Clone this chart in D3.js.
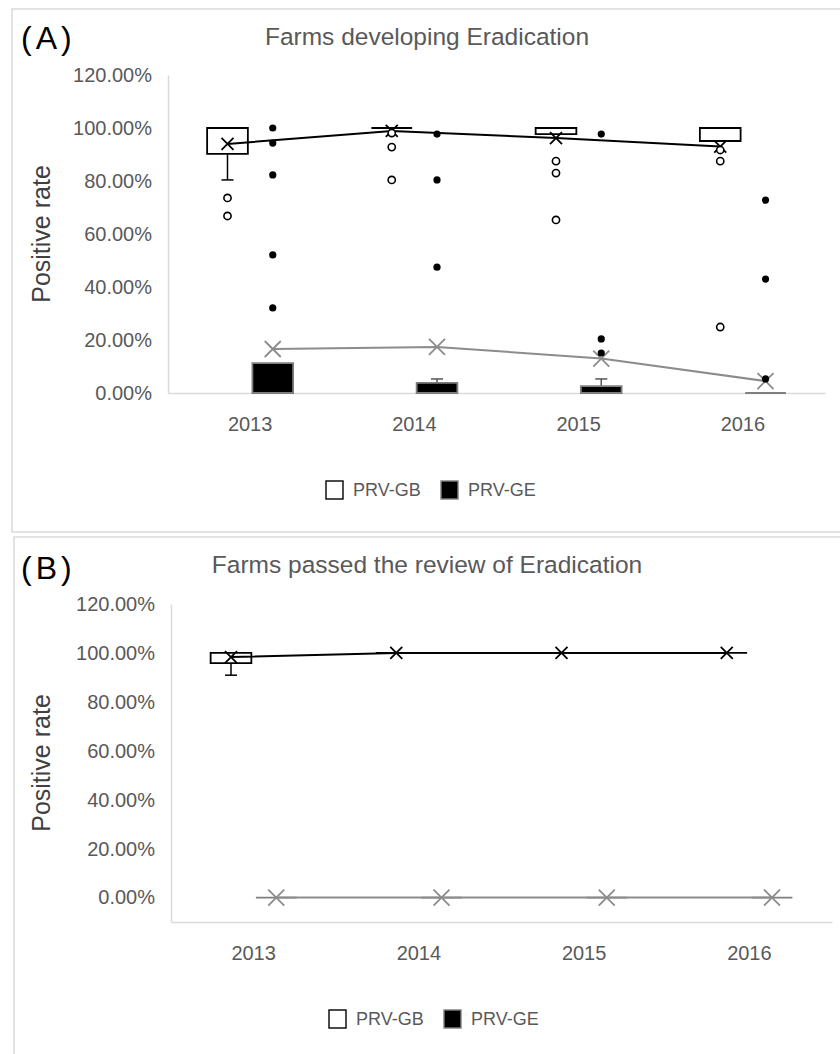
<!DOCTYPE html>
<html>
<head>
<meta charset="utf-8">
<script src="https://cdn.jsdelivr.net/npm/d3@7"></script>
<style>
body { margin: 0; background: #fff; }
svg { display: block; }
text { font-family: "Liberation Sans", Arial, sans-serif; }
</style>
</head>
<body>
<svg id="chart" width="840" height="1054"></svg>
<script>
const years = ["2013", "2014", "2015", "2016"]
const series = ["PRV-GB", "PRV-GE"]
const yTicks = [0, 0.2, 0.4, 0.6, 0.8, 1.0, 1.2]

// box rows are [q1, median, q3, whiskerLow, whiskerHigh]
// (A) farms developing eradication
const gbBoxA = [[0.902, 1.0, 1.0, 0.804, 1.0], [1, 1, 1, 1, 1], [0.977, 1, 1, 0.977, 1], [0.951, 1, 1, 0.951, 1]]
const gbMeanA = [0.940, 0.989, 0.962, 0.930]
const gbOutA = [[0.736, 0.668], [0.981, 0.928, 0.804], [0.875, 0.830, 0.653], [0.917, 0.875, 0.249]]
const geBoxA = [[0, 0, 0.113, 0, 0.113], [0, 0, 0.038, 0, 0.053], [0, 0, 0.026, 0, 0.053], [0, 0, 0, 0, 0]]
const geMeanA = [0.166, 0.174, 0.130, 0.045]
const geOutA = [[1.0, 0.943, 0.823, 0.521, 0.321], [0.977, 0.804, 0.475], [0.977, 0.204, 0.151], [0.728, 0.430, 0.053]]

// (B) farms passed the review
const gbBoxB = [[0.958, 1, 1, 0.909, 1], [1, 1, 1, 1, 1], [1, 1, 1, 1, 1], [1, 1, 1, 1, 1]]
const gbMeanB = [0.983, 1, 1, 1]
const gbOutB = [[], [], [], []]
const geBoxB = [[0, 0, 0, 0, 0], [0, 0, 0, 0, 0], [0, 0, 0, 0, 0], [0, 0, 0, 0, 0]]
const geMeanB = [0, 0, 0, 0]
const geOutB = [[], [], [], []]

const panels = [
	{
		label: "(A)", title: "Farms developing Eradication",
		frame: [12, 9, 840, 523], left: 168, right: 825, top: 75, bottom: 393, yDomain: [0, 1.2],
		titleY: 45, labelY: 49, legendY: 490, legendX: 325, axisTitleY: 234,
		gb: {box: gbBoxA, mean: gbMeanA, out: gbOutA}, ge: {box: geBoxA, mean: geMeanA, out: geOutA},
	},
	{
		label: "(B)", title: "Farms passed the review of Eradication",
		frame: [14, 537, 840, 530], left: 171, right: 832, top: 604, bottom: 922, yDomain: [-0.1, 1.2],
		titleY: 573, labelY: 579, legendY: 1019, legendX: 328, axisTitleY: 763,
		gb: {box: gbBoxB, mean: gbMeanB, out: gbOutB}, ge: {box: geBoxB, mean: geMeanB, out: geOutB},
	},
]

const svg = d3.select("#chart")

function drawPanel(p) {
	const g = svg.append("g")
	g.append("rect")
		.attr("x", p.frame[0]).attr("y", p.frame[1])
		.attr("width", p.frame[2]).attr("height", p.frame[3])
		.attr("fill", "none").attr("stroke", "#d9d9d9").attr("stroke-width", 1.5)

	const x = d3.scaleBand().domain(years).range([p.left, p.right])
	const sub = d3.scaleBand().domain(series).range([-43, 43]).paddingInner(0.1)
	const y = d3.scaleLinear().domain(p.yDomain).range([p.bottom, p.top])

	// axes
	const ya = g.append("g")
		.attr("transform", "translate(" + p.left + ",0)")
		.call(d3.axisLeft(y).tickValues(yTicks).tickSize(0).tickSizeOuter(0).tickPadding(16).tickFormat(d3.format(".2%")))
	const xa = g.append("g")
		.attr("transform", "translate(0," + p.bottom + ")")
		.call(d3.axisBottom(x).tickSize(0).tickSizeOuter(0).tickPadding(24))
	for (const a of [ya, xa]) {
		a.select(".domain").attr("stroke", "#d9d9d9").attr("stroke-width", 1.5)
		a.selectAll("text").attr("font-size", 20).attr("fill", "#595959").attr("font-family", "Liberation Sans, Arial, sans-serif")
	}

	const bw = sub.bandwidth()
	const groups = [
		{key: "PRV-GB", d: p.gb, stroke: "#000", fill: "#fff", line: "#000", mk: 6, mkColor: "#000", outFill: "#fff", outStroke: "#000", whisk: "#000"},
		{key: "PRV-GE", d: p.ge, stroke: "#7f7f7f", fill: "#000", line: "#8c8c8c", mk: 8, mkColor: "#8c8c8c", outFill: "#000", outStroke: "none", whisk: "#555"},
	]

	for (const s of groups) {
		const cx = i => x(years[i]) + x.bandwidth() / 2 + sub(s.key) + bw / 2
		const sg = g.append("g")

		// whiskers
		s.d.box.forEach((b, i) => {
			const c = cx(i)
			const segs = []
			if (b[3] < b[0]) segs.push([b[0], b[3]])
			if (b[4] > b[2]) segs.push([b[2], b[4]])
			segs.forEach(([from, to]) => {
				sg.append("line").attr("x1", c).attr("x2", c).attr("y1", y(from)).attr("y2", y(to))
					.attr("stroke", s.whisk).attr("stroke-width", 1.5)
				sg.append("line").attr("x1", c - 6).attr("x2", c + 6).attr("y1", y(to)).attr("y2", y(to))
					.attr("stroke", s.whisk).attr("stroke-width", 1.5)
			})
		})

		// boxes (a path, so a collapsed box still shows as a line)
		sg.selectAll(null).data(s.d.box).join("path")
			.attr("d", (b, i) => {
				const c = cx(i)
				return "M" + (c - bw / 2) + "," + y(b[2]) + "H" + (c + bw / 2) + "V" + y(b[0]) + "H" + (c - bw / 2) + "Z"
			})
			.attr("fill", s.fill).attr("stroke", s.stroke).attr("stroke-width", 1.8)

		s.d.box.forEach((b, i) => {
			if (b[1] > b[0] && b[1] < b[2]) {
				const c = cx(i)
				sg.append("line").attr("x1", c - bw / 2).attr("x2", c + bw / 2).attr("y1", y(b[1])).attr("y2", y(b[1]))
					.attr("stroke", s.stroke).attr("stroke-width", 1.5)
			}
		})

		// mean line
		const line = d3.line().x((d, i) => cx(i)).y(d => y(d))
		sg.append("path").datum(s.d.mean).attr("d", line)
			.attr("fill", "none").attr("stroke", s.line).attr("stroke-width", 2)

		// mean markers
		const m = s.mk
		sg.selectAll(null).data(s.d.mean).join("path")
			.attr("transform", (d, i) => "translate(" + cx(i) + "," + y(d) + ")")
			.attr("d", "M" + (-m) + "," + (-m) + "L" + m + "," + m + "M" + (-m) + "," + m + "L" + m + "," + (-m))
			.attr("stroke", s.mkColor).attr("stroke-width", 1.8).attr("fill", "none")

		// outliers
		s.d.out.forEach((arr, i) => {
			sg.selectAll(null).data(arr).enter().append("circle")
				.attr("cx", cx(i)).attr("cy", d => y(d)).attr("r", 3.6)
				.attr("fill", s.outFill).attr("stroke", s.outStroke).attr("stroke-width", 1.6)
		})
	}

	// titles
	g.append("text").attr("x", 21).attr("y", p.labelY).attr("font-size", 32).attr("letter-spacing", 4)
		.attr("fill", "#000").text(p.label)
	g.append("text").attr("x", 427).attr("y", p.titleY).attr("text-anchor", "middle")
		.attr("font-size", 24.5).attr("fill", "#595959").text(p.title)
	g.append("text").attr("transform", "translate(41," + p.axisTitleY + ") rotate(-90)")
		.attr("text-anchor", "middle").attr("dominant-baseline", "central")
		.attr("font-size", 25).attr("fill", "#404040").text("Positive rate")

	// legend
	const lg = g.append("g").attr("transform", "translate(" + p.legendX + "," + p.legendY + ")")
	const items = [
		{name: series[0], fill: "#fff", stroke: "#000", dx: 0},
		{name: series[1], fill: "#000", stroke: "#7f7f7f", dx: 115},
	]
	items.forEach(it => {
		lg.append("rect").attr("x", it.dx + 1).attr("y", -9).attr("width", 17).attr("height", 18)
			.attr("fill", it.fill).attr("stroke", it.stroke).attr("stroke-width", 1.4)
		lg.append("text").attr("x", it.dx + 28).attr("y", 0).attr("dominant-baseline", "central")
			.attr("font-size", 18).attr("fill", "#595959").text(it.name)
	})
}

panels.forEach(drawPanel)
</script>
</body>
</html>
